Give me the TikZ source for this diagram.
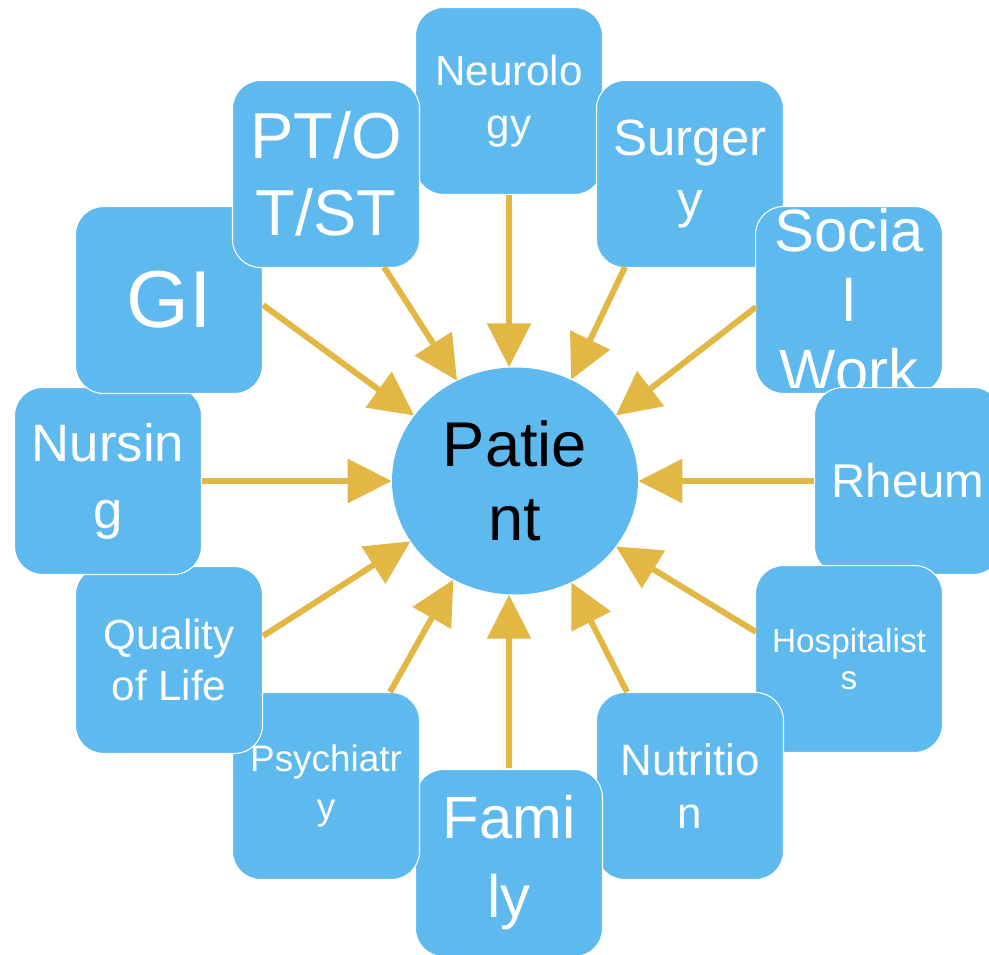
\documentclass[tikz,border=0pt]{standalone}
\usepackage{fontspec}
\setmainfont{Liberation Sans}
\usepackage{tikz}
\usetikzlibrary{arrows.meta,calc,shapes.geometric}
\definecolor{teamblue}{RGB}{93,185,238}
\definecolor{teamgold}{RGB}{226,183,68}
\tikzset{
  team box/.style={rectangle,rounded corners=0.56cm,draw=white,
    line width=0.6pt,fill=teamblue,text=white,minimum width=3.74cm,
    minimum height=3.74cm,inner sep=1pt,align=center},
  team text/.style={text=white,inner sep=0pt,align=center},
  team arrow/.style={-{Triangle[length=8.8mm,width=8.6mm]},teamgold,
    line width=3.4pt},
  patient vertex/.style={ellipse,fill=teamblue,minimum width=4.92cm,
    minimum height=4.54cm,inner sep=0pt,align=center}
}

\begin{document}
\begin{tikzpicture}[x=0.02cm,y=-0.02cm]
  \useasboundingbox (0,0) rectangle (989,954);
  \node[team box,font=\fontsize{24}{30}\selectfont] (neurology) at (509,101) {Neurolo\\gy};
  \node[team box,font=\fontsize{29}{35}\selectfont] (surgery) at (690,174) {Surger\\y};
  \node[team box] (social) at (849,300) {};
  \begin{scope}
    \clip ([yshift=0.14cm]social.south west) rectangle ([yshift=0.2cm]social.north east);
    \node[team text,font=\fontsize{34}{40}\selectfont] (socialtext) at (social) {Socia\\l\\Work};
  \end{scope}
  \node[team box,font=\fontsize{27}{31}\selectfont] (rheum) at (908,481) {Rheum};
  \node[team box,font=\fontsize{19}{21}\selectfont] (hospitalists) at (849,659) {Hospitalist\\s};
  \node[team box,font=\fontsize{25}{30}\selectfont] (nutrition) at (690,786) {Nutritio\\n};
  \node[team box,font=\fontsize{34}{45}\selectfont] (family) at (509,863) {Fami\\ly};
  \node[team box,font=\fontsize{21}{27}\selectfont] (psychiatry) at (326,786) {Psychiatr\\y};
  \node[team box,font=\fontsize{24}{29}\selectfont] (quality) at (169,660) {Quality\\of Life};
  \node[team box,font=\fontsize{30}{38}\selectfont] (nursing) at (108,481) {Nursin\\g};
  \node[team box,font=\fontsize{46}{55}\selectfont] (gi) at (169,300) {GI};
  \node[team box,font=\fontsize{37}{44}\selectfont] (ptotst) at (326,174) {PT/O\\T/ST};

  \node[patient vertex,font=\fontsize{36}{42}\selectfont] (patient) at (515,481) {Patie\\nt};

  \coordinate (neurology tail) at (509,195);
  \coordinate (ptotst tail) at (384,267);
  \coordinate (surgery tail) at (625,267);
  \coordinate (gi tail) at (263,305);
  \coordinate (social tail) at (756,307);
  \coordinate (nursing tail) at (202,481);
  \coordinate (rheum tail) at (814,481);
  \coordinate (quality tail) at (263,636);
  \coordinate (hospitalists tail) at (756,632);
  \coordinate (psychiatry tail) at (390,692);
  \coordinate (nutrition tail) at (627,692);
  \coordinate (family tail) at (509,768);
  \foreach \from/\angle in {neurology/93.6,ptotst/120,surgery/61,gi/147,
    social/33.4,nursing/180,rheum/0,quality/210,hospitalists/-33.7,
    psychiatry/238,nutrition/-61.7,family/-93.5}
    \draw[team arrow] (\from\space tail) -- (patient.\angle);
\end{tikzpicture}
\end{document}
